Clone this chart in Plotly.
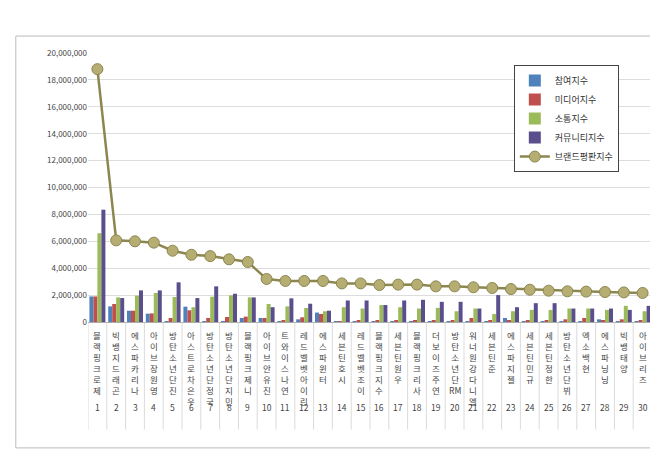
import plotly.graph_objects as go

names = ["블랙핑크 로제", "빅뱅 지드래곤", "에스파 카리나", "아이브 장원영", "방탄소년단 진",
         "아스트로 차은우", "방탄소년단 정국", "방탄소년단 지민", "블랙핑크 제니", "아이브 안유진",
         "트와이스 나연", "레드벨벳 아이린", "에스파 윈터", "세븐틴 호시", "레드벨벳 조이",
         "블랙핑크 지수", "세븐틴 원우", "블랙핑크 리사", "더보이즈 주연", "방탄소년단 RM",
         "워너원 강다니엘", "세븐틴 준", "에스파 지젤", "세븐틴 민규", "세븐틴 정한",
         "방탄소년단 뷔", "엑소 백현", "에스파 닝닝", "빅뱅 태양", "아이브 리즈"]
ranks = list(range(1, 31))

participation = [1900000, 1160000, 840000, 620000, 50000, 1140000, 50000, 50000, 300000, 300000,
                 50000, 200000, 700000, 30000, 30000, 30000, 30000, 30000, 30000, 30000,
                 60000, 30000, 300000, 30000, 30000, 60000, 60000, 200000, 60000, 30000]
media = [1900000, 1340000, 840000, 640000, 300000, 870000, 300000, 370000, 400000, 300000,
         100000, 350000, 600000, 50000, 100000, 100000, 80000, 80000, 80000, 80000,
         300000, 80000, 100000, 80000, 150000, 200000, 300000, 100000, 200000, 80000]
communication = [6600000, 1830000, 1960000, 2160000, 1860000, 1100000, 1880000, 1980000, 1830000, 1340000,
                 1160000, 1040000, 800000, 1100000, 1000000, 1260000, 1100000, 1000000, 1050000, 800000,
                 1000000, 600000, 800000, 900000, 900000, 1000000, 1000000, 900000, 1200000, 800000]
community = [8350000, 1780000, 2350000, 2350000, 2950000, 1780000, 2650000, 2100000, 1830000, 1100000,
             1760000, 1360000, 840000, 1600000, 1600000, 1260000, 1600000, 1650000, 1500000, 1500000,
             1000000, 2000000, 1100000, 1400000, 1400000, 1000000, 1000000, 1000000, 900000, 1200000]
brand = [18800000, 6070000, 6000000, 5900000, 5300000, 5000000, 4900000, 4660000, 4460000, 3200000,
         3050000, 3050000, 3050000, 2870000, 2870000, 2750000, 2780000, 2780000, 2650000, 2650000,
         2580000, 2530000, 2450000, 2400000, 2330000, 2280000, 2260000, 2230000, 2200000, 2160000]

font = "Noto Sans CJK KR"
fig = go.Figure()
for nm, vals, col in [("참여지수", participation, "#4F81BD"), ("미디어지수", media, "#C0504D"),
                      ("소통지수", communication, "#9BBB59"), ("커뮤니티지수", community, "#5B4E8C")]:
    fig.add_trace(go.Bar(x=ranks, y=vals, name=nm, marker=dict(color=col, line=dict(width=0))))
fig.add_trace(go.Scatter(x=ranks, y=brand, name="브랜드평판지수", mode="lines+markers",
                         line=dict(color="#8C8650", width=2.5),
                         marker=dict(size=11, color="#B5AD72", line=dict(color="#8C8650", width=1))))


def stack(name):
    parts = []
    for word in name.split(" "):
        parts.extend([word] if word.isascii() else list(word))
    return "<br>".join(parts)


for r, n in zip(ranks, names):
    fig.add_annotation(x=r, y=-0.02, xref="x", yref="paper", text=stack(n), showarrow=False,
                       yanchor="top", font=dict(size=8.5, color="#444"))
    fig.add_annotation(x=r, y=-0.345, xref="x", yref="paper", text=str(r), showarrow=False,
                       font=dict(size=8.5, color="#444"))
    fig.add_shape(type="line", xref="x", yref="paper", x0=r + 0.5, x1=r + 0.5, y0=0, y1=-0.4,
                  line=dict(color="#ccc", width=0.7))
fig.add_shape(type="line", xref="x", yref="paper", x0=0.5, x1=0.5, y0=0, y1=-0.4,
              line=dict(color="#ccc", width=0.7))
fig.add_shape(type="rect", xref="paper", yref="paper", x0=-0.128, x1=1.014, y0=-0.468, y1=1.063,
              line=dict(color="#bbb", width=1))

fig.update_layout(
    width=658, height=456, barmode="group", bargap=0.15, bargroupgap=0,
    paper_bgcolor="white", plot_bgcolor="white",
    margin=dict(l=80, r=14, t=45, b=142),
    font=dict(family=font, size=9, color="#333"),
    xaxis=dict(tickvals=ranks, showticklabels=False, range=[0.5, 30.5],
               showline=True, linecolor="#aaa"),
    yaxis=dict(range=[0, 20000000], dtick=2000000, tickformat=",d", gridcolor="#ddd",
               tickfont=dict(size=8, color="#444")),
    legend=dict(x=0.755, y=0.955, xanchor="left", yanchor="top", bgcolor="white",
                bordercolor="#444", borderwidth=1, tracegroupgap=16, font=dict(size=9)),
)
fig.write_html("out.html")
